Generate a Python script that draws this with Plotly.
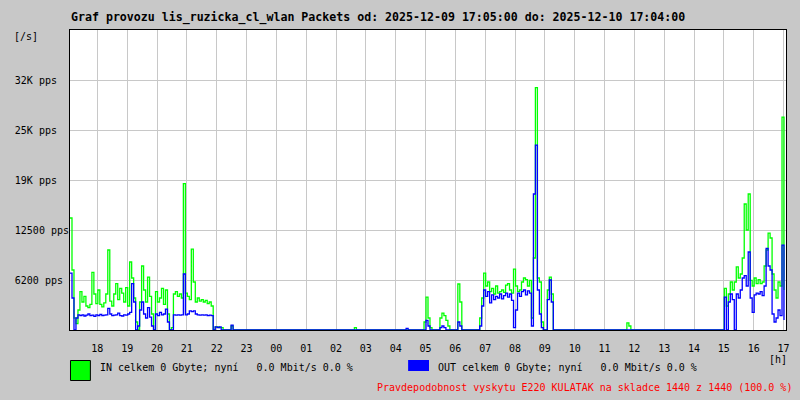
import pandas as pd
import numpy as np
import plotly.graph_objects as go

# ---- data (packets per second, 4-minute samples) ----
start_time = "2025-12-09 17:05"
n_samples = 360
step = "4min"

# segments: (start time, values)
in_A = [14000, 7500, 1500, 800, 2500, 4800, 3500, 4200, 3000, 2800, 3200, 7200, 4500, 3300, 5000,
        3200, 2900, 3400, 4500, 10000, 3600, 3000, 4500, 5800, 3800, 5200, 4600, 3500, 5300, 3000,
        8500, 6500, 4000, 1000, 0, 3500, 8000, 5000, 3500, 6600, 4200, 2000, 0, 4800, 3500,
        4000, 5200, 3200, 5000, 2000, 0, 300, 4500, 4800, 4200, 4500, 4000, 18300, 4600, 4200,
        3800, 10100, 6000, 3500, 4000, 3600, 3800, 3500, 3700, 3300, 3500, 3000, 0, 400, 400,
        300, 300, 0, 0, 0, 0, 500, 0]
out_A = [7100, 4000, 0, 1500, 1900, 1800, 1900, 1750, 1850, 2000, 1800, 1850, 1700, 1900, 1800,
         1950, 1800, 1850, 1900, 2700, 2000, 1800, 1850, 1900, 2100, 1800, 1750, 1900, 1850, 2000,
         2200, 5800, 3500, 0, 500, 2500, 3500, 2000, 1500, 2800, 1600, 500, 0, 2000, 1800,
         2200, 1900, 2000, 2600, 1000, 0, 0, 1900, 1850, 1900, 1850, 1900, 7000, 1900, 2000,
         2400, 2300, 2400, 2000, 1900, 1850, 1900, 1850, 1900, 1800, 1850, 1800, 0, 400, 300,
         400, 0, 0, 0, 0, 0, 600, 0]

in_B = [300]
out_B = [200]
in_C1 = [1000, 4100, 1500, 300]
out_C1 = [0, 1200, 500, 0]
in_C2 = [1500, 2100, 1800, 1200, 500]
out_C2 = [300, 500, 300, 0, 0]
in_C3 = [5750, 3500, 0]
out_C3 = [1000, 500, 0]

in_D = [1500, 4000, 7100, 5500, 6000, 4800, 5200, 4500, 5500, 4600, 4800, 5000, 4700, 5600, 5800,
        5000, 4600, 7600, 5500, 4800, 5000, 6000, 6500, 6300, 5500, 6200, 1500, 9000, 30300, 6500,
        6000, 1000, 0, 0, 5000, 6600, 4500, 0]
out_D = [500, 3000, 5000, 4200, 4800, 3400, 4400, 3800, 4200, 4000, 4500, 3900, 4300, 4600, 4100,
         4500, 3700, 300, 2500, 4600, 4200, 4800, 5000, 4400, 4900, 4600, 500, 17000, 23100, 5000,
         2000, 300, 0, 0, 3800, 6250, 3500, 0]

in_F = [900, 500]

in_E = [5200, 3000, 4500, 6000, 5000, 6000, 7900, 6500, 7000, 9000, 15750, 12500, 17000, 6200, 5500,
        6500, 5800, 6300, 5800, 6000, 8000, 10000, 12100, 11500, 7000, 5000, 4000, 6000, 5500, 26600,
        5000]
out_E = [4100, 0, 3500, 4500, 3800, 0, 4500, 4000, 5000, 6500, 6800, 5500, 9750, 4000, 2200,
         4400, 4600, 4500, 4800, 4300, 5500, 10200, 8000, 7500, 2000, 1000, 1500, 2500, 1800, 10600,
         1250]

in_segments = [("2025-12-09 17:05", in_A), ("2025-12-10 02:37", in_B), ("2025-12-10 04:57", in_C1),
               ("2025-12-10 05:29", in_C2), ("2025-12-10 06:05", in_C3), ("2025-12-10 06:49", in_D),
               ("2025-12-10 11:45", in_F), ("2025-12-10 15:01", in_E)]
out_segments = [("2025-12-09 17:05", out_A), ("2025-12-10 04:21", out_B), ("2025-12-10 04:57", out_C1),
                ("2025-12-10 05:29", out_C2), ("2025-12-10 06:05", out_C3), ("2025-12-10 06:49", out_D),
                ("2025-12-10 15:01", out_E)]

y_tickvals = [6250, 12500, 18750, 25000, 31250]
y_ticktext = ["6200 pps", "12500 pps", "19K pps", "25K pps", "32K pps"]

title_text = "Graf provozu lis_ruzicka_cl_wlan Packets od: 2025-12-09 17:05:00 do: 2025-12-10 17:04:00"
in_label = "IN celkem 0 Gbyte; nyní   0.0 Mbit/s 0.0 %"
out_label = "OUT celkem 0 Gbyte; nyní   0.0 Mbit/s 0.0 %"
note_text = "Pravdepodobnost vyskytu E220 KULATAK na skladce 1440 z 1440 (100.0 %)"

# ---- build series ----
times = pd.date_range(start_time, periods=n_samples, freq=step)
t0 = pd.Timestamp(start_time)


def build(segments):
    arr = np.zeros(n_samples)
    for st, vals in segments:
        i0 = int((pd.Timestamp(st) - t0) / pd.Timedelta(step))
        arr[i0:i0 + len(vals)] = vals
    return arr


in_series = build(in_segments)
out_series = build(out_segments)

FONT = "DejaVu Sans Mono"
pad = max(len(s) for s in y_ticktext)
y_ticktext_p = [s + "\u00a0" * (pad - len(s)) for s in y_ticktext]

fig = go.Figure()
fig.add_trace(go.Scatter(x=times, y=in_series, mode="lines", line=dict(color="#00ff00", width=1.3, shape="hv"),
                         name="IN", hoverinfo="skip"))
fig.add_trace(go.Scatter(x=times, y=out_series, mode="lines", line=dict(color="#0000ff", width=1.3, shape="hv"),
                         name="OUT", hoverinfo="skip"))

fig.update_layout(
    width=800, height=400, autosize=False,
    margin=dict(l=70, r=10, t=30, b=70, pad=0),
    paper_bgcolor="#c8c8c8", plot_bgcolor="#ffffff",
    showlegend=False,
    font=dict(family=FONT, size=10, color="#000000"),
)
fig.update_xaxes(
    type="date",
    range=[t0, t0 + pd.Timedelta("1D")],
    tick0="2025-12-09 18:00", dtick=3600000, tickformat="%H",
    showgrid=True, gridcolor="#c8c8c8", gridwidth=1,
    showline=True, linecolor="#000000", linewidth=1, mirror=True,
    ticks="", zeroline=False, ticklabelstandoff=9,
    tickfont=dict(family=FONT, size=10, color="#000000"),
)
fig.update_yaxes(
    range=[0, 37500],
    tickvals=y_tickvals, ticktext=y_ticktext_p,
    showgrid=True, gridcolor="#c8c8c8", gridwidth=1,
    showline=True, linecolor="#000000", linewidth=1, mirror=True,
    ticks="", zeroline=False, ticklabelstandoff=-2,
    tickfont=dict(family=FONT, size=10, color="#000000"),
)


def px_x(p):
    return (p - 70) / 720.0


def px_y(p):
    return (330 - p) / 300.0


ann = [
    dict(text="<b>" + title_text + "</b>", x=px_x(69), y=px_y(18), xanchor="left", yanchor="middle",
         font=dict(family=FONT, size=11.6, color="#000000")),
    dict(text="[/s]", x=px_x(12), y=px_y(37), xanchor="left", yanchor="middle"),
    dict(text="[h]", x=px_x(771), y=px_y(359), xanchor="left", yanchor="middle"),
    dict(text=in_label.replace(" ", "\u00a0"), x=px_x(98), y=px_y(367), xanchor="left", yanchor="middle"),
    dict(text=out_label.replace(" ", "\u00a0"), x=px_x(438), y=px_y(367), xanchor="left", yanchor="middle"),
    dict(text=note_text, x=px_x(377), y=px_y(387), xanchor="left", yanchor="middle",
         font=dict(family=FONT, size=10, color="#ff0000")),
]
for a in ann:
    a.update(xref="paper", yref="paper", showarrow=False)
    if "font" not in a:
        a["font"] = dict(family=FONT, size=10, color="#000000")
fig.update_layout(annotations=ann)

fig.update_layout(shapes=[
    dict(type="rect", xref="paper", yref="paper", x0=px_x(70.5), x1=px_x(90.5), y0=px_y(360.5), y1=px_y(380.5),
         fillcolor="#00ff00", line=dict(color="#000000", width=1)),
    dict(type="rect", xref="paper", yref="paper", x0=px_x(410), x1=px_x(431), y0=px_y(360), y1=px_y(371),
         fillcolor="#0000ff", line=dict(width=0)),
])

fig.write_html("out.html", config={"displayModeBar": False},
               post_script="document.body.style.margin='0';document.body.style.padding='0';"
                           "document.documentElement.style.overflow='hidden';")
